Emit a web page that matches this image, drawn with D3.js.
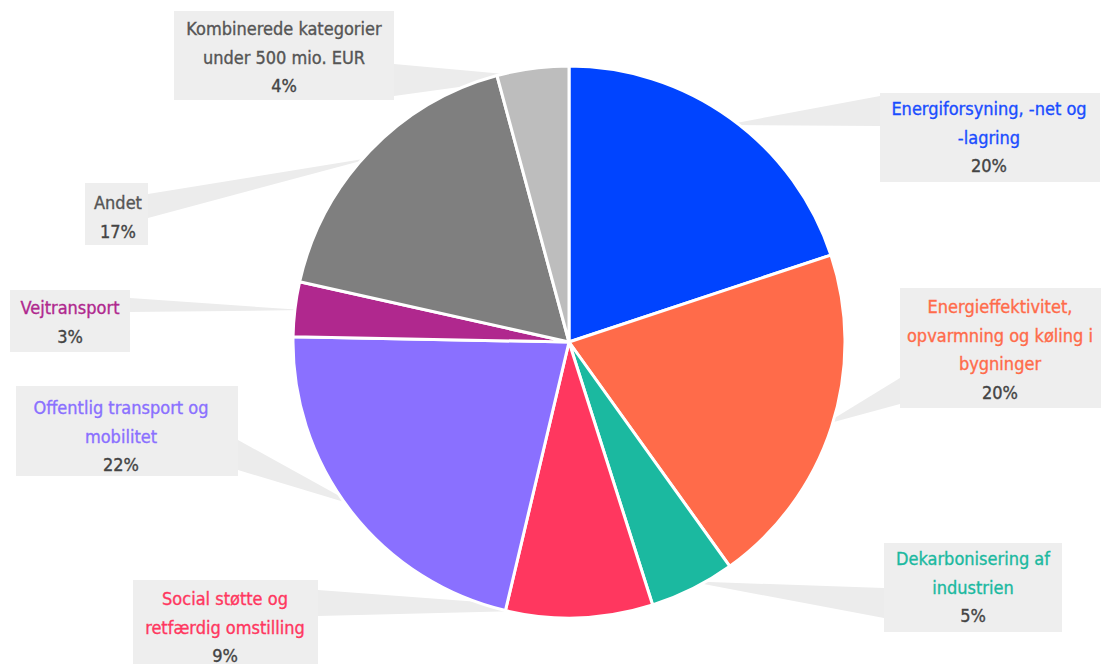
<!DOCTYPE html>
<html>
<head>
<meta charset="utf-8">
<script src="https://cdn.jsdelivr.net/npm/d3@7"></script>
<style>
  html, body { margin: 0; padding: 0; background: #fff; }
  svg { display: block; }
  text { font-family: "DejaVu Sans Condensed", "Liberation Sans Narrow", "Liberation Sans", sans-serif; }
</style>
</head>
<body>
<svg id="chart" width="1107" height="664"></svg>
<script>
// Shares of the allocated funds by category (percent)
const categories = [
  "Energiforsyning, -net og -lagring",
  "Energieffektivitet, opvarmning og køling i bygninger",
  "Dekarbonisering af industrien",
  "Social støtte og retfærdig omstilling",
  "Offentlig transport og mobilitet",
  "Vejtransport",
  "Andet",
  "Kombinerede kategorier under 500 mio. EUR"
];
const shares = [19.9, 20.2, 5.0, 8.6, 21.6, 3.2, 17.3, 4.2];

// Wrapped label lines for each category
const labelLines = [
  ["Energiforsyning, -net og", "-lagring"],
  ["Energieffektivitet,", "opvarmning og køling i", "bygninger"],
  ["Dekarbonisering af", "industrien"],
  ["Social støtte og", "retfærdig omstilling"],
  ["Offentlig transport og", "mobilitet"],
  ["Vejtransport"],
  ["Andet"],
  ["Kombinerede kategorier", "under 500 mio. EUR"]
];

const sliceColors = ["#0044ff", "#ff6b4a", "#1bb9a0", "#ff375f", "#8a70ff", "#b0288e", "#7f7f7f", "#bdbdbd"];
const nameColors  = ["#1a4dff", "#ff6b4a", "#1bb9a0", "#ff375f", "#8a70ff", "#b0288e", "#555555", "#555555"];

// Callout boxes: box rect, text centre, first baseline, leader base on box edge
const callouts = [
  {x: 880, y: 93,  w: 220, h: 89,  cx: 989,  by: 115, base: [[880, 96],  [880, 126]]},
  {x: 900, y: 288, w: 201, h: 120, cx: 1000, by: 313, base: [[900, 378], [900, 404]]},
  {x: 884, y: 543, w: 178, h: 89,  cx: 973,  by: 565, base: [[884, 588], [884, 618]]},
  {x: 133, y: 580, w: 185, h: 90,  cx: 225,  by: 605, base: [[318, 590], [318, 616]]},
  {x: 16,  y: 386, w: 222, h: 90,  cx: 121,  by: 414, base: [[238, 440], [238, 470]]},
  {x: 10,  y: 290, w: 120, h: 62,  cx: 70,   by: 314, base: [[130, 298], [130, 312]]},
  {x: 85,  y: 183, w: 63,  h: 62,  cx: 118,  by: 209, base: [[148, 194], [148, 218]]},
  {x: 174, y: 11,  w: 220, h: 89,  cx: 284,  by: 35,  base: [[394, 64],  [394, 96]]}
];

const lineH = 28.5;
const fontSize = 18;
const cx = 569, cy = 342, radius = 276;

const svg = d3.select("#chart");

const data = categories.map((c, i) => ({name: c, value: shares[i], i}));
const pie = d3.pie().value(d => d.value).sort(null);
const arcs = pie(data);
const arc = d3.arc().innerRadius(0).outerRadius(radius);

// Leader wedges, drawn beneath the pie, pointing at each slice's mid-angle
const leaders = svg.append("g");
arcs.forEach((a, k) => {
  const mid = (a.startAngle + a.endAngle) / 2;
  const tip = [cx + radius * 0.97 * Math.sin(mid), cy - radius * 0.97 * Math.cos(mid)];
  const b = callouts[k].base;
  leaders.append("path")
    .attr("d", d3.line()([b[0], b[1], tip]) + "Z")
    .attr("fill", "#ececec");
});

// Callout boxes and texts
const labels = svg.append("g");
arcs.forEach((a, k) => {
  const c = callouts[k];
  const g = labels.append("g");
  g.append("rect")
    .attr("x", c.x).attr("y", c.y).attr("width", c.w).attr("height", c.h)
    .attr("fill", "#eeeeee");
  const lines = labelLines[k];
  lines.forEach((t, j) => {
    g.append("text")
      .attr("x", c.cx).attr("y", c.by + j * lineH)
      .attr("text-anchor", "middle")
      .attr("font-size", fontSize)
      .attr("fill", nameColors[k])
      .attr("stroke", nameColors[k])
      .attr("stroke-width", 0.35)
      .text(t);
  });
  g.append("text")
    .attr("x", c.cx).attr("y", c.by + lines.length * lineH)
    .attr("text-anchor", "middle")
    .attr("font-size", fontSize)
    .attr("fill", "#444444")
    .attr("stroke", "#444444")
    .attr("stroke-width", 0.35)
    .text(Math.round(a.data.value) + "%");
});

// Pie slices
svg.append("g")
  .attr("transform", `translate(${cx},${cy})`)
  .selectAll("path")
  .data(arcs)
  .join("path")
  .attr("d", arc)
  .attr("fill", d => sliceColors[d.data.i])
  .attr("stroke", "#ffffff")
  .attr("stroke-width", 3)
  .attr("stroke-linejoin", "round");
</script>
</body>
</html>
